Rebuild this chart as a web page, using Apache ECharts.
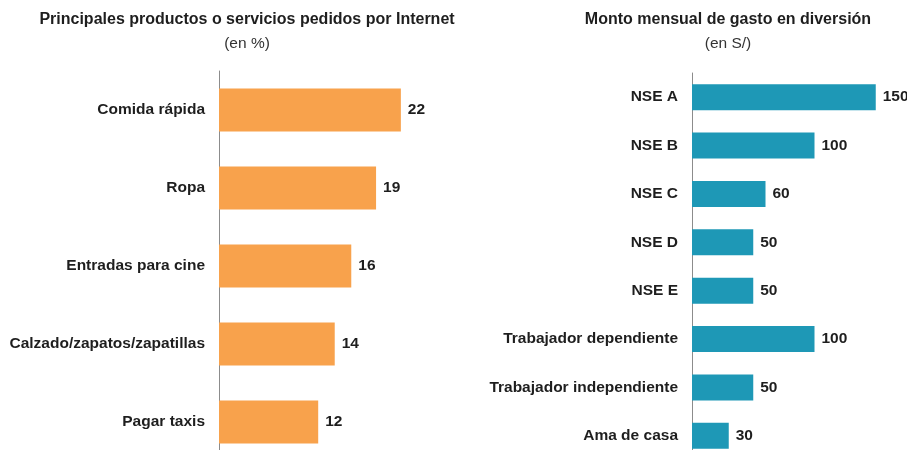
<!DOCTYPE html>
<html>
<head>
<meta charset="utf-8">
<script src="https://cdn.jsdelivr.net/npm/echarts@6/dist/echarts.min.js"></script>
<style>
  html, body { margin: 0; padding: 0; background: #fff; overflow: hidden; }
  /* el grafico original esta cortado abajo, por eso el div es mas alto que la ventana */
  #chart { width: 907px; height: 480px; }
</style>
</head>
<body>
<div id="chart"></div>
<script>
  // panel izquierdo
  let productos = ['Comida rápida', 'Ropa', 'Entradas para cine', 'Calzado/zapatos/zapatillas', 'Pagar taxis']
  let productosPct = [22, 19, 16, 14, 12]
  // panel derecho
  let grupos = ['NSE A', 'NSE B', 'NSE C', 'NSE D', 'NSE E', 'Trabajador dependiente', 'Trabajador independiente', 'Ama de casa']
  let gastoSoles = [150, 100, 60, 50, 50, 100, 50, 30]

  let fontFam = '"Liberation Sans", Arial, sans-serif'
  let txtColor = '#1e1e1e'

  function catAxis (idx, data) {
    return {
      type: 'category',
      gridIndex: idx,
      inverse: true,
      data: data,
      axisTick: { show: false },
      axisLine: { show: true, lineStyle: { color: '#8c8c8c', width: 1 } },
      axisLabel: {
        margin: 14,
        color: txtColor,
        fontSize: 15.5,
        fontWeight: 'bold',
        fontFamily: fontFam
      }
    }
  }

  function valAxis (idx, max) {
    return {
      type: 'value',
      gridIndex: idx,
      min: 0,
      max: max,
      show: false,
      splitLine: { show: false }
    }
  }

  function barSerie (idx, data, color, width) {
    return {
      type: 'bar',
      xAxisIndex: idx,
      yAxisIndex: idx,
      data: data,
      barWidth: width,
      itemStyle: { color: color },
      label: {
        show: true,
        position: 'right',
        distance: 7,
        color: txtColor,
        fontSize: 15.5,
        fontWeight: 'bold',
        fontFamily: fontFam
      }
    }
  }

  let option = {
    animation: false,
    backgroundColor: '#fff',
    title: [{
      text: 'Principales productos o servicios pedidos por Internet',
      subtext: '(en %)',
      left: 242,
      top: 7,
      textAlign: 'center',
      itemGap: 8,
      textStyle: { color: txtColor, fontSize: 16, fontWeight: 'bold', fontFamily: fontFam },
      subtextStyle: { color: '#333', fontSize: 15.5, fontFamily: fontFam }
    }, {
      text: 'Monto mensual de gasto en diversión',
      subtext: '(en S/)',
      left: 723,
      top: 7,
      textAlign: 'center',
      itemGap: 8,
      textStyle: { color: txtColor, fontSize: 16, fontWeight: 'bold', fontFamily: fontFam },
      subtextStyle: { color: '#333', fontSize: 15.5, fontFamily: fontFam }
    }],
    grid: [
      { left: 219, top: 71, width: 248, height: 390 },
      { left: 692, top: 73, width: 196, height: 387 }
    ],
    xAxis: [valAxis(0, 30), valAxis(1, 160)],
    yAxis: [catAxis(0, productos), catAxis(1, grupos)],
    series: [
      barSerie(0, productosPct, '#F8A24C', 43),
      barSerie(1, gastoSoles, '#1E98B6', 26)
    ]
  }

  let myChart = echarts.init(document.getElementById('chart'))
  myChart.setOption(option)
</script>
</body>
</html>
